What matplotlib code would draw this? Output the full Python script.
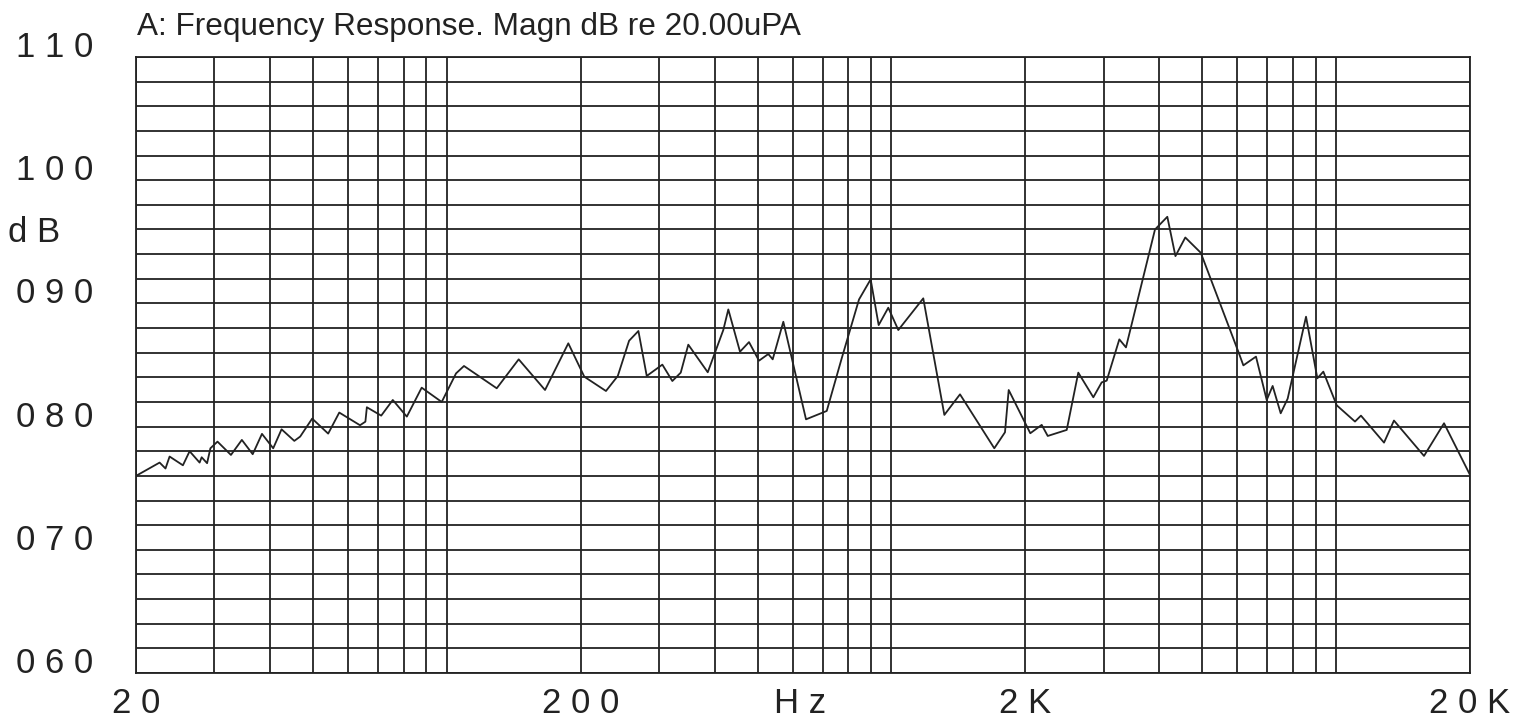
import matplotlib
matplotlib.use("Agg")
from matplotlib import pyplot as plt

plt.rcParams['font.family'] = ['Liberation Sans', 'DejaVu Sans']

# curve (Hz, dB)
freq = [20, 22.6, 23.3, 23.8, 25.5, 26.4, 27.8, 28.1, 28.9, 29.4, 30.5, 32.7, 34.6, 36.6,
        38.4, 40.7, 42.5, 45.4, 46.8, 49.8, 54.1, 57.3, 63.8, 65.6, 66.1, 71.2, 75.6, 81.3,
        87.8, 97.4, 104.9, 109.3, 129.5, 145.1, 166.3, 187.6, 203.8, 228, 242.4, 257, 269.7,
        281.6, 305.3, 321.5, 335.8, 349.2, 386.2, 418.6, 429.6, 456.4, 478.2, 503.6, 528.4,
        540.6, 571.2, 642.4, 715.2, 772.8, 845.3, 897.8, 935.8, 983.6, 1036, 1179, 1315, 1426,
        1703, 1800, 1835, 2052, 2177, 2246, 2478, 2631, 2844, 2970, 3048, 3254, 3368, 3914,
        4172, 4351, 4579, 4961, 6038, 6185, 6603, 6980, 7198, 7504, 7780, 8556, 9073, 9358,
        10030, 11025, 11371, 12814, 13490, 15762, 17484, 20000]
magn = [76.0, 77.08, 76.6, 77.57, 76.86, 78.0, 77.08, 77.51, 77.03, 78.24, 78.78, 77.7, 78.92,
        77.76, 79.41, 78.24, 79.78, 78.84, 79.19, 80.65, 79.43, 81.14, 80.11, 80.4, 81.57, 80.89,
        82.16, 80.81, 83.16, 82.0, 84.32, 84.92, 83.11, 85.46, 82.97, 86.76, 84.05, 82.89, 84.11,
        86.97, 87.76, 84.11, 85.03, 83.70, 84.38, 86.65, 84.41, 87.84, 89.51, 86.08, 86.86, 85.35,
        85.89, 85.46, 88.51, 80.59, 81.27, 85.54, 90.32, 91.95, 88.24, 89.65, 87.84, 90.41, 80.95,
        82.62, 78.24, 79.54, 82.97, 79.46, 80.14, 79.24, 79.73, 84.38, 82.38, 83.59, 83.73, 87.08,
        86.43, 96.0, 97.03, 93.84, 95.35, 94.11, 86.0, 84.97, 85.68, 82.16, 83.3, 81.08, 82.27,
        88.92, 83.92, 84.46, 81.73, 80.41, 80.89, 78.7, 80.49, 77.62, 80.27, 76.08]

x_ticks = [20, 200, 2000, 20000]
x_labels = ["2 0", "2 0 0", "2 K", "2 0 K"]
x_grid = ([30, 40, 50, 60, 70, 80, 90, 100]
          + [300, 400, 500, 600, 700, 800, 900, 1000]
          + [3000, 4000, 5000, 6000, 7000, 8000, 9000, 10000])
y_ticks = [60, 70, 80, 90, 100, 110]
y_labels = ["0 6 0", "0 7 0", "0 8 0", "0 9 0", "1 0 0", "1 1 0"]
y_grid = list(range(60, 111, 2))

ink = "#222222"

fig = plt.figure(figsize=(15.24, 7.17), dpi=100)
ax = fig.add_axes([136 / 1524, 44 / 717, 1334 / 1524, 616 / 717])

ax.plot(freq, magn, color=ink, lw=1.3)

ax.set_xscale("log")
ax.set_xlim(20, 20000)
ax.set_ylim(60, 110)

ax.set_xticks(x_ticks)
ax.set_xticklabels(x_labels)
ax.set_xticks(x_grid, minor=True)
ax.xaxis.set_minor_formatter(matplotlib.ticker.NullFormatter())
ax.set_yticks(y_ticks)
ax.set_yticklabels(y_labels)
ax.set_yticks(y_grid, minor=True)

ax.grid(which="both", color=ink, lw=1.3)
ax.set_axisbelow(True)
for s in ax.spines.values():
    s.set_color(ink)
    s.set_linewidth(1.3)

ax.tick_params(which="both", length=0)
ax.tick_params(axis="x", pad=10, labelsize=25, labelcolor=ink)
ax.tick_params(axis="y", pad=31, labelsize=25, labelcolor=ink)
for lab in ax.get_yticklabels():
    lab.set_verticalalignment("baseline")

fig.text(137 / 1524, (717 - 35) / 717, "A: Frequency Response. Magn dB re 20.00uPA",
         fontsize=22.7, color=ink, va="baseline", ha="left")
fig.text(8 / 1524, (717 - 242) / 717, "d B", fontsize=25, color=ink, va="baseline", ha="left")
fig.text(800 / 1524, (717 - 713) / 717, "H z", fontsize=25, color=ink, va="baseline", ha="center")

fig.savefig("out.png", dpi=100, facecolor="white")
